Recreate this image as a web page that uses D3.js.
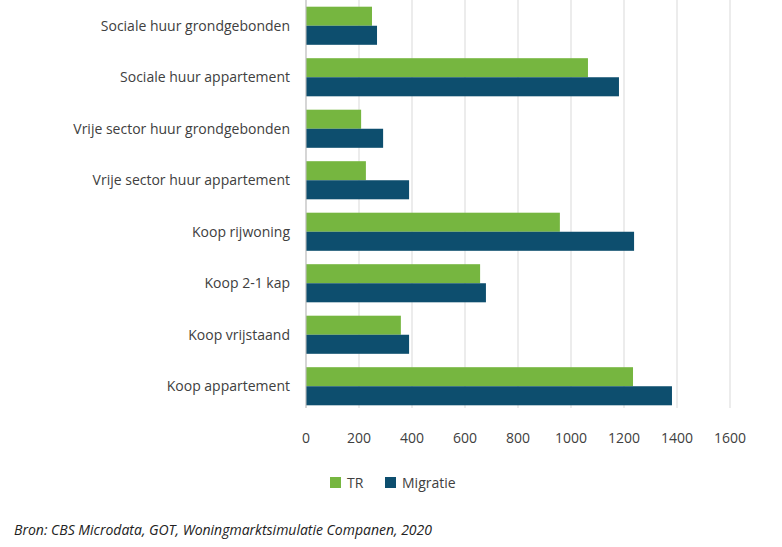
<!DOCTYPE html>
<html><head><meta charset="utf-8">
<script src="https://cdn.jsdelivr.net/npm/d3@7"></script>
<style>body{margin:0;background:#fff}text{font-family:"Open Sans",sans-serif;fill:#404040}</style>
</head><body><svg id="c" width="782" height="547"></svg>
<script>
const categories=["Sociale huur grondgebonden","Sociale huur appartement","Vrije sector huur grondgebonden","Vrije sector huur appartement","Koop rijwoning","Koop 2-1 kap","Koop vrijstaand","Koop appartement"];
const seriesNames=["TR","Migratie"];
const trValues=[249,1064,208,226,958,657,358,1234];
const migValues=[268,1181,291,389,1238,679,389,1381];
const ticks=[0,200,400,600,800,1000,1200,1400,1600];
const colors=["#76b640","#0d4e6e"];
const svg=d3.select("#c");
const x=d3.scaleLinear().domain([0,1600]).range([306,730]);
const y=d3.scaleBand().domain(categories).range([0,412]).paddingInner(0.26).paddingOuter(0.13);
const sub=d3.scaleBand().domain(seriesNames).range([0,y.bandwidth()]);
svg.append("g").selectAll("line").data(ticks).join("line")
 .attr("x1",d=>x(d)).attr("x2",d=>x(d)).attr("y1",0).attr("y2",408).attr("stroke","#d9d9d9");
const data=[trValues,migValues];
seriesNames.forEach((s,i)=>{
 svg.append("g").selectAll("rect").data(categories).join("rect")
  .attr("x",x(0)).attr("y",c=>y(c)+sub(s)).attr("height",sub.bandwidth())
  .attr("width",(c,j)=>x(data[i][j])-x(0)).attr("fill",colors[i]);
});
svg.append("line").attr("x1",x(0)).attr("x2",x(0)).attr("y1",0).attr("y2",408).attr("stroke","#bfbfbf");
svg.append("g").selectAll("text").data(categories).join("text")
 .attr("x",290).attr("y",c=>y(c)+y.bandwidth()/2+5).attr("text-anchor","end").attr("font-size",14).text(d=>d);
svg.append("g").selectAll("text").data(ticks).join("text")
 .attr("x",d=>x(d)).attr("y",443).attr("text-anchor","middle").attr("font-size",14).text(d=>d);
const leg=svg.append("g");
[[330,"TR"],[385,"Migratie"]].forEach(([lx,t],i)=>{
 leg.append("rect").attr("x",lx).attr("y",477).attr("width",11).attr("height",11).attr("fill",colors[i]);
 leg.append("text").attr("x",lx+17).attr("y",488).attr("font-size",14).text(t);
});
svg.append("text").attr("x",14).attr("y",535).attr("font-size",14).attr("font-style","italic").attr("fill","#000")
 .style("fill","#222").text("Bron: CBS Microdata,  GOT,  Woningmarktsimulatie Companen, 2020");
</script></body></html>
